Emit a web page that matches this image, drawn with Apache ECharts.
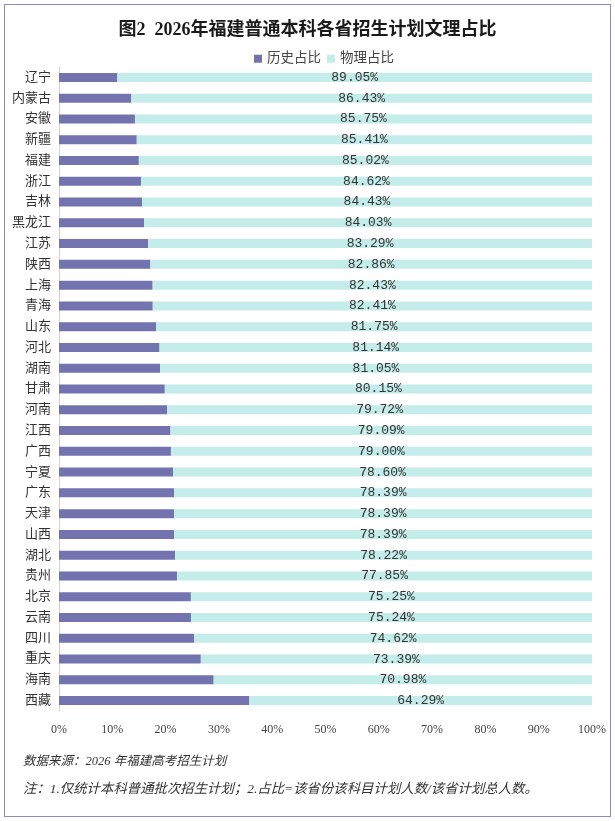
<!DOCTYPE html>
<html>
<head>
<meta charset="utf-8">
<script src="https://cdn.jsdelivr.net/npm/echarts@6/dist/echarts.min.js"></script>
<style>
html,body{margin:0;padding:0;background:#fff;}
#box{position:absolute;left:4px;top:4px;width:605px;height:811px;border:1px solid #8a8ac4;}
#main{position:absolute;left:0;top:0;width:615px;height:821px;}
</style>
</head>
<body>
<div id="box"></div>
<div id="main"></div>
<script>
// 省份（自上而下）
var provinces = ['辽宁','内蒙古','安徽','新疆','福建','浙江','吉林','黑龙江','江苏','陕西','上海','青海','山东','河北','湖南','甘肃','河南','江西','广西','宁夏','广东','天津','山西','湖北','贵州','北京','云南','四川','重庆','海南','西藏'];
// 物理占比（%）
var physics = [89.05,86.43,85.75,85.41,85.02,84.62,84.43,84.03,83.29,82.86,82.43,82.41,81.75,81.14,81.05,80.15,79.72,79.09,79.00,78.60,78.39,78.39,78.39,78.22,77.85,75.25,75.24,74.62,73.39,70.98,64.29];
// 物理标签文字
var physicsLabels = ['89.05%','86.43%','85.75%','85.41%','85.02%','84.62%','84.43%','84.03%','83.29%','82.86%','82.43%','82.41%','81.75%','81.14%','81.05%','80.15%','79.72%','79.09%','79.00%','78.60%','78.39%','78.39%','78.39%','78.22%','77.85%','75.25%','75.24%','74.62%','73.39%','70.98%','64.29%'];
// 历史占比 = 100 - 物理
var historyPct = [];
for (var i=0;i<physics.length;i++){
    historyPct.push(+(100 - physics[i]).toFixed(2));
}
var xTicks = ['0%','10%','20%','30%','40%','50%','60%','70%','80%','90%','100%'];

var chart = echarts.init(document.getElementById('main'));
var font = '"Liberation Serif","Noto Sans CJK SC",serif';
var monoFont = '"Liberation Mono","Noto Sans CJK SC",monospace';

var option = {
    backgroundColor: 'transparent',
    animation: false,
    title: [
        {
            text: '图2  2026年福建普通本科各省招生计划文理占比',
            left: 'center',
            top: 16,
            textStyle: {fontSize: 18, fontWeight: 'bold', color: '#1a1a1a', fontFamily: font}
        },
        {
            text: '数据来源：2026 年福建高考招生计划',
            left: 18,
            top: 750,
            textStyle: {fontSize: 12.5, fontWeight: 'normal', fontStyle: 'italic', color: '#333', fontFamily: font}
        },
        {
            text: '注：1.仅统计本科普通批次招生计划；2.占比=该省份该科目计划人数/该省计划总人数。',
            left: 18,
            top: 778,
            textStyle: {fontSize: 13.4, fontWeight: 'normal', fontStyle: 'italic', color: '#333', fontFamily: font}
        }
    ],
    legend: {
        top: 47,
        left: 249,
        itemWidth: 8,
        itemHeight: 8,
        itemGap: 6,
        icon: 'rect',
        textStyle: {fontSize: 13.5, color: '#444', fontFamily: font},
        data: ['历史占比','物理占比']
    },
    grid: {left: 59, right: 23, top: 67, bottom: 110},
    xAxis: {
        type: 'value',
        min: 0,
        max: 100,
        interval: 10,
        axisLine: {show: false},
        axisTick: {show: false},
        splitLine: {show: false},
        axisLabel: {
            fontSize: 12,
            color: '#444',
            fontFamily: font,
            margin: 13,
            formatter: function (v) { return xTicks[Math.round(v/10)]; }
        }
    },
    yAxis: {
        type: 'category',
        inverse: true,
        data: provinces,
        axisLine: {show: true, lineStyle: {color: '#d0d0d0'}},
        axisTick: {show: false},
        axisLabel: {fontSize: 13, color: '#333', fontFamily: font, margin: 8}
    },
    series: [
        {
            name: '历史占比',
            type: 'bar',
            stack: 'all',
            barWidth: 9,
            itemStyle: {color: '#7373b0'},
            data: historyPct
        },
        {
            name: '物理占比',
            type: 'bar',
            stack: 'all',
            barWidth: 9,
            itemStyle: {color: '#c4ecea'},
            label: {
                show: true,
                position: 'inside',
                color: '#333',
                fontSize: 13,
                fontFamily: monoFont,
                formatter: function (p) { return physicsLabels[p.dataIndex]; }
            },
            data: physics
        }
    ]
};
chart.setOption(option);
</script>
</body>
</html>
